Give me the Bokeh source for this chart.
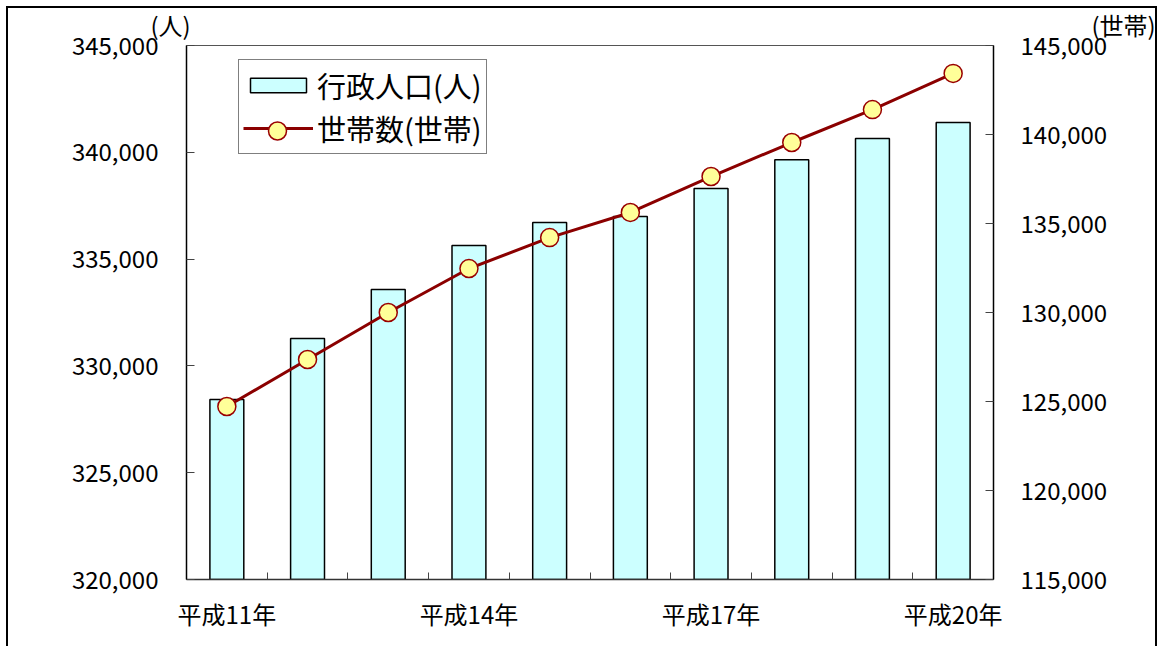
from bokeh.plotting import figure
from bokeh.models import (Range1d, LinearAxis, FixedTicker, NumeralTickFormatter,
                          Legend, LegendItem, Label, ColumnDataSource)
from bokeh.embed import file_html
from bokeh.resources import INLINE

# ---- data ----
years = ["平成11年", "平成12年", "平成13年", "平成14年", "平成15年",
         "平成16年", "平成17年", "平成18年", "平成19年", "平成20年"]
population = [328430, 331280, 333580, 335640, 336710,
              336990, 338300, 339650, 340650, 341400]
households = [124720, 127360, 130000, 132470, 134210,
              135620, 137640, 139550, 141400, 143430]
left_ticks = [320000, 325000, 330000, 335000, 340000, 345000]
right_ticks = [115000, 120000, 125000, 130000, 135000, 140000, 145000]
shown_years = ["平成11年", "平成14年", "平成17年", "平成20年"]
series_names = ["行政人口(人)", "世帯数(世帯)"]
unit_names = ["(人)", "(世帯)"]

FONT = "Noto Sans CJK JP"

xpos = [i + 0.5 for i in range(len(years))]
src = ColumnDataSource(dict(x=xpos, pop=population, hh=households))

p = figure(width=1151, height=640, output_backend="svg", toolbar_location=None,
           x_range=Range1d(0, len(years)), y_range=Range1d(left_ticks[0], left_ticks[-1]),
           min_border_left=178, min_border_right=166, min_border_top=37, min_border_bottom=69)
p.extra_y_ranges = {"hh": Range1d(right_ticks[0], right_ticks[-1])}
p.xgrid.visible = False
p.ygrid.visible = False
p.background_fill_color = "white"
p.border_fill_color = "white"
p.outline_line_color = "#555555"
p.outline_line_width = 1
p.styles = {"margin-left": "6px", "margin-top": "6px",
            "border-left": "2px solid black", "border-top": "2px solid black",
            "border-right": "2px solid black"}

bars = p.vbar(x="x", top="pop", bottom=left_ticks[0], width=0.42, source=src,
              fill_color="#CCFFFF", line_color="black", line_width=1.5)
line = p.line(x="x", y="hh", source=src, y_range_name="hh",
              line_color="#8B0000", line_width=3)
dots = p.scatter(x="x", y="hh", source=src, y_range_name="hh", size=18,
                 fill_color="#FFFF99", line_color="#990000", line_width=1.5)

TICK_FS = "24px"

# left axis
ya = p.yaxis[0]
ya.ticker = FixedTicker(ticks=left_ticks)
ya.formatter = NumeralTickFormatter(format="0,0")
ya.major_tick_in = 8
ya.major_tick_out = 0
ya.minor_tick_line_color = None
ya.major_label_standoff = 28
ya.major_label_text_font = FONT
ya.major_label_text_font_size = TICK_FS
ya.major_label_text_color = "black"
ya.axis_line_color = "black"
ya.axis_line_width = 1.5
ya.major_tick_line_color = "#444444"

# right axis
ra = LinearAxis(y_range_name="hh", ticker=FixedTicker(ticks=right_ticks),
                formatter=NumeralTickFormatter(format="0,0"))
ra.major_tick_in = 8
ra.major_tick_out = 0
ra.minor_tick_line_color = None
ra.major_label_standoff = 27
ra.major_label_text_font = FONT
ra.major_label_text_font_size = TICK_FS
ra.major_label_text_color = "black"
ra.axis_line_color = "black"
ra.axis_line_width = 1.5
ra.major_tick_line_color = "#444444"
p.add_layout(ra, "right")

# bottom axis
xa = p.xaxis[0]
label_pos = [xpos[years.index(y)] for y in shown_years]
xa.ticker = FixedTicker(ticks=label_pos, minor_ticks=list(range(len(years) + 1)))
xa.major_label_overrides = {pos: y for pos, y in zip(label_pos, shown_years)}
xa.major_tick_in = 0
xa.major_tick_out = 0
xa.minor_tick_in = 7
xa.minor_tick_out = 0
xa.minor_tick_line_color = "#444444"
xa.axis_line_color = "#333333"
xa.axis_line_width = 1.5
xa.major_label_standoff = 16
xa.major_label_text_font = FONT
xa.major_label_text_font_size = TICK_FS
xa.major_label_text_color = "black"

# unit labels (side panels, so that they are not clipped by the frame)
p.add_layout(Label(x=142, y=555, x_units="screen", y_units="screen", text=unit_names[0],
                   text_align="center", text_baseline="middle",
                   text_font=FONT, text_font_size="24px", text_color="black"), "left")
p.add_layout(Label(x=807 + 130, y=21, x_units="screen", y_units="screen", text=unit_names[1],
                   text_align="center", text_baseline="middle",
                   text_font=FONT, text_font_size="24px", text_color="black"), "above")

locA = (52, 425)
legend = Legend(items=[LegendItem(label=series_names[0], renderers=[bars]),
                       LegendItem(label=series_names[1], renderers=[line])],
                location=locA, margin=0, padding=4, spacing=1,
                glyph_width=70, glyph_height=18, label_standoff=4, label_height=40,
                label_text_font=FONT, label_text_font_size="29px",
                label_text_color="black",
                border_line_color="black", border_line_width=1,
                background_fill_color="white", background_fill_alpha=1)
p.add_layout(legend, "center")

legend_marker = Legend(items=[LegendItem(label="", renderers=[dots])],
                       location=(locA[0] + 4, locA[1] + 1.5), margin=0, padding=0, spacing=0,
                       glyph_width=70, glyph_height=45, label_standoff=0, label_height=20,
                       label_text_font_size="1px", label_text_alpha=0,
                       border_line_color=None, background_fill_alpha=0)
p.add_layout(legend_marker, "center")

open("out.html", "w").write(file_html(p, INLINE))
